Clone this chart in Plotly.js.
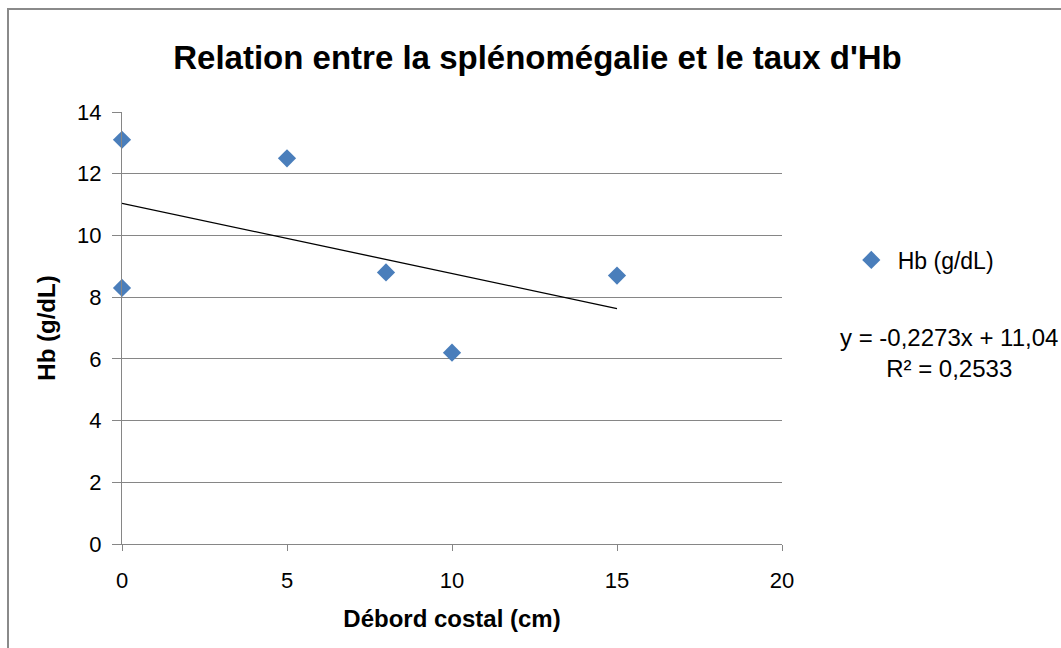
<!DOCTYPE html>
<html>
<head>
<meta charset="utf-8">
<script src="https://cdn.plot.ly/plotly-3.0.1.min.js"></script>
<style>
  html, body { margin: 0; padding: 0; background: #fff; }
  #wrap { position: relative; width: 1061px; height: 648px; overflow: hidden; }
  #chart { width: 1061px; height: 648px; }
  #frame { position: absolute; left: 7px; top: 8px; width: 1100px; height: 700px;
           border-left: 2px solid #8a8a8a; border-top: 2px solid #8a8a8a; pointer-events: none; }
</style>
</head>
<body>
<div id="wrap"><div id="chart"></div><div id="frame"></div></div>
<script>
// Data
const debordCostal = [0, 0, 5, 8, 10, 15];          // cm
const hb = [13.1, 8.3, 12.5, 8.8, 6.2, 8.7];         // g/dL
const seriesName = '\u00a0Hb (g/dL)';
const xTicks = [0, 5, 10, 15, 20];
const yTicks = [0, 2, 4, 6, 8, 10, 12, 14];
const equationText = 'y = -0,2273x + 11,04<br>R² = 0,2533';

// Least squares trendline computed from the data
const n = debordCostal.length;
const mx = debordCostal.reduce((a, b) => a + b, 0) / n;
const my = hb.reduce((a, b) => a + b, 0) / n;
let sxy = 0, sxx = 0;
for (let i = 0; i < n; i++) { sxy += (debordCostal[i] - mx) * (hb[i] - my); sxx += (debordCostal[i] - mx) ** 2; }
const slope = sxy / sxx, intercept = my - slope * mx;
const xMin = Math.min(...debordCostal), xMax = Math.max(...debordCostal);
const trendX = [xMin, xMax];
const trendY = trendX.map(x => intercept + slope * x);

const FONT = 'Liberation Sans, Arial, sans-serif';

const traces = [
  { type: 'scatter', mode: 'markers', x: debordCostal, y: hb, name: seriesName,
    marker: { symbol: 'diamond', size: 14, color: '#4a7ebb' }, cliponaxis: false },
  { type: 'scatter', mode: 'lines', x: trendX, y: trendY, showlegend: false,
    line: { color: '#000000', width: 1.3 }, hoverinfo: 'skip' }
];

const layout = {
  width: 1061, height: 648,
  paper_bgcolor: '#ffffff', plot_bgcolor: '#ffffff',
  margin: { l: 122, r: 279, t: 112, b: 104 },
  font: { family: FONT, color: '#000000', size: 22 },
  title: { text: "Relation entre la splénomégalie et le taux d'Hb",
           font: { family: FONT, size: 33, color: '#000', weight: 'bold' },
           x: 537.5 / 1061, xref: 'container', xanchor: 'center', y: 1 - 57 / 648, yref: 'container', yanchor: 'middle' },
  xaxis: {
    range: [0, 20], tickvals: xTicks, ticks: 'outside', ticklen: 6, tickcolor: '#868686',
    showline: true, linecolor: '#868686', linewidth: 1, showgrid: false, zeroline: false,
    tickfont: { size: 22, color: '#000' }, ticklabelstandoff: 11,
    title: { text: 'Débord costal (cm)', font: { size: 24, weight: 'bold', color: '#000' }, standoff: 17 }
  },
  yaxis: {
    range: [0, 14], tickvals: yTicks, ticks: 'outside', ticklen: 9, tickcolor: '#868686',
    showline: true, linecolor: '#868686', linewidth: 1, showgrid: true, gridcolor: '#868686', gridwidth: 1,
    zeroline: false, tickfont: { size: 22, color: '#000' }, ticklabelstandoff: 6,
    title: { text: 'Hb (g/dL)', font: { size: 24, weight: 'bold', color: '#000' }, standoff: 14 }
  },
  showlegend: true,
  legend: { x: 1.105, xanchor: 'left', y: (544 - 260) / 432, yanchor: 'middle', font: { size: 23, color: '#000' },
            bgcolor: 'rgba(0,0,0,0)', itemwidth: 30 },
  annotations: [
    { text: equationText, xref: 'paper', yref: 'paper', x: (1060 - 122) / 660, y: (544 - 353) / 432,
      xanchor: 'right', yanchor: 'middle', showarrow: false, align: 'center', font: { size: 24, color: '#000' } }
  ]
};

Plotly.newPlot('chart', traces, layout, { displayModeBar: false, staticPlot: true });
</script>
</body>
</html>
